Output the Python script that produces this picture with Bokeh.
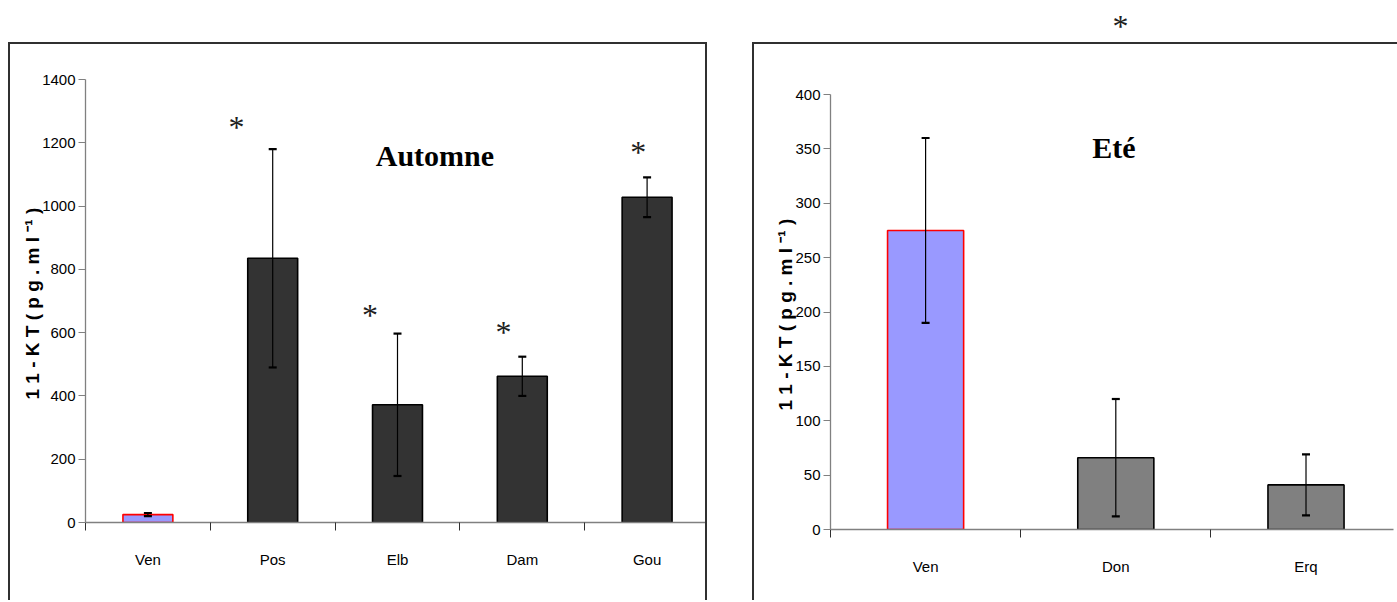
from bokeh.plotting import figure
from bokeh.models import (Range1d, FixedTicker, ColumnDataSource, Whisker,
                          TeeHead, Label, Spacer)
from bokeh.layouts import row, column
from bokeh.embed import file_html
from bokeh.resources import INLINE

# 11-KT plasma levels, autumn campaign
aut_sites = ["Ven", "Pos", "Elb", "Dam", "Gou"]
aut_mean = [25, 835, 372, 462, 1028]
aut_err = [5, 345, 225, 62, 63]
aut_marked = ["Pos", "Elb", "Dam", "Gou"]

# 11-KT plasma levels, summer campaign
ete_sites = ["Ven", "Don", "Erq"]
ete_mean = [275, 66, 41]
ete_err = [85, 54, 28]
ete_marked = ["Don"]

aut_ticks = [0, 200, 400, 600, 800, 1000, 1200, 1400]
ete_ticks = [0, 50, 100, 150, 200, 250, 300, 350, 400]

REF_SITE = "Ven"
SANS = "Liberation Sans"
SERIF = "Liberation Serif"
BOX = "2px solid #303030"
YLABEL = "1 1 - K T  ( p g . m l ⁻¹ )"


def panel(sites, mean, err, yticks, width, height, border_l, border_t,
          border_b, border_r, x_end, dark, title, title_xy, box_style):
    n = len(sites)
    centers = [i + 0.5 for i in range(n)]
    src = ColumnDataSource(dict(
        x=centers, top=mean,
        upper=[m + e for m, e in zip(mean, err)],
        lower=[m - e for m, e in zip(mean, err)],
        fill=["#9999ff" if s == REF_SITE else dark for s in sites],
        line=["#ff0000" if s == REF_SITE else "#000000" for s in sites],
    ))
    p = figure(width=width, height=height, output_backend="svg",
               toolbar_location=None, title_location=None,
               x_range=Range1d(0, x_end),
               y_range=Range1d(yticks[0], yticks[-1]),
               min_border_left=border_l, min_border_right=border_r,
               min_border_top=border_t, min_border_bottom=border_b)
    p.styles = box_style
    p.outline_line_color = None
    p.grid.visible = False
    p.background_fill_color = "white"
    p.border_fill_color = "white"

    p.vbar(x="x", top="top", bottom=0, width=0.4, source=src,
           fill_color="fill", line_color="line", line_width=1.6)
    w = Whisker(base="x", upper="upper", lower="lower", source=src,
                line_color="black", line_width=1.2, level="annotation",
                upper_head=TeeHead(size=8, line_width=2.2, line_color="black"),
                lower_head=TeeHead(size=8, line_width=2.2, line_color="black"))
    p.add_layout(w)

    # category axis: boundary ticks, names centred between them
    xa = p.xaxis[0]
    xa.ticker = FixedTicker(ticks=centers, minor_ticks=list(range(n + 1)))
    xa.major_label_overrides = {c: s for c, s in zip(centers, sites)}
    xa.major_tick_out = 0
    xa.major_tick_in = 0
    xa.minor_tick_out = 8
    xa.minor_tick_in = 0
    xa.minor_tick_line_color = "#303030"
    xa.axis_line_color = "#808080"
    xa.axis_line_width = 1.3
    xa.major_label_standoff = 20
    xa.major_label_text_font = SANS
    xa.major_label_text_font_size = "15px"
    xa.major_label_text_color = "black"

    ya = p.yaxis[0]
    ya.ticker = FixedTicker(ticks=yticks)
    ya.minor_tick_line_color = None
    ya.major_tick_out = 7
    ya.major_tick_in = 0
    ya.major_tick_line_color = "#808080"
    ya.axis_line_color = "#808080"
    ya.axis_line_width = 1.3
    ya.major_label_standoff = 3
    ya.major_label_text_font = SANS
    ya.major_label_text_font_size = "15px"
    ya.major_label_text_color = "black"
    ya.axis_label = YLABEL
    ya.axis_label_text_font = SANS
    ya.axis_label_text_font_style = "bold"
    ya.axis_label_text_font_size = "19px"
    ya.axis_label_text_color = "black"
    ya.axis_label_standoff = -4

    p.add_layout(Label(x=title_xy[0], y=title_xy[1], text=title,
                       text_font=SERIF, text_font_style="bold",
                       text_font_size="30px", text_align="center",
                       text_baseline="middle", text_color="black"))
    return p, src


left, lsrc = panel(aut_sites, aut_mean, aut_err, aut_ticks, 699, 558,
                   75, 35, 80, 0, 5, "#333333", "Automne", (2.8, 1160),
                   {"border-left": BOX, "border-top": BOX,
                    "border-right": BOX})
right, rsrc = panel(ete_sites, ete_mean, ete_err, ete_ticks, 645, 558,
                    76, 50, 73, 6, 2.96, "#808080", "Eté", (1.49, 351),
                    {"border-left": BOX, "border-top": BOX})

# significance stars above the autumn sites (nudged left of each bar)
nudge = {"Pos": (-0.29, 71), "Elb": (-0.22, 59), "Dam": (-0.15, 79),
         "Gou": (-0.07, 81)}
for s in aut_marked:
    i = aut_sites.index(s)
    dx, dy = nudge[s]
    left.add_layout(Label(x=i + 0.5 + dx, y=aut_mean[i] + aut_err[i] + dy,
                          text="*", text_font=SERIF, text_font_size="32px",
                          text_align="center", text_baseline="middle",
                          text_color="#202020"))

# the summer star sits above the panel box, in its own strip
strip = figure(width=645, height=42, output_backend="svg",
               toolbar_location=None, title_location=None,
               x_range=right.x_range,
               y_range=Range1d(0, 42), min_border_left=78,
               min_border_right=6, min_border_top=0, min_border_bottom=0)
strip.axis.visible = False
strip.grid.visible = False
strip.outline_line_color = None
for s in ete_marked:
    i = ete_sites.index(s)
    strip.add_layout(Label(x=i + 0.5 + 0.03, y=17, text="*",
                           text_font=SERIF, text_font_size="32px",
                           text_align="center", text_baseline="middle",
                           text_color="#202020"))

layout = column(
    row(Spacer(width=752, height=42), strip),
    row(Spacer(width=8, height=560), column(left),
        Spacer(width=45, height=560), right),
)

open("out.html", "w").write(file_html(layout, INLINE))
